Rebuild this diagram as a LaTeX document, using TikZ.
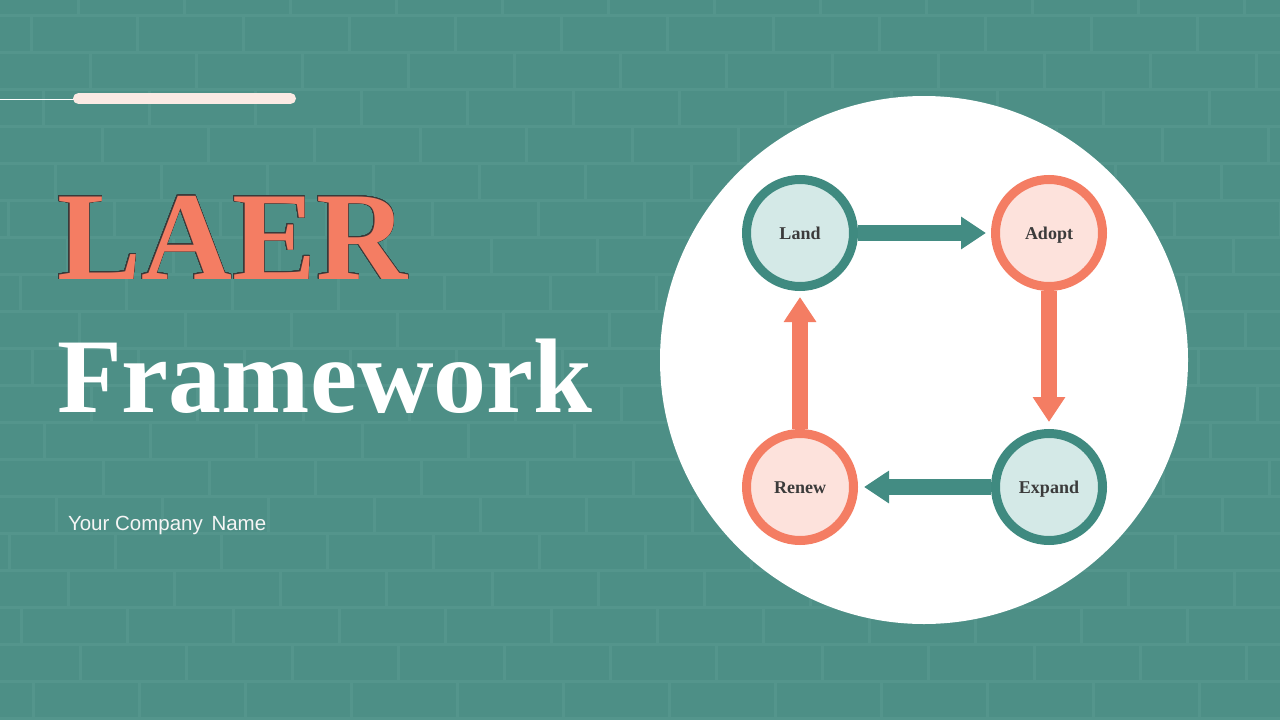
\documentclass[tikz,border=0pt]{standalone}
\usepackage{fontspec}
\setmainfont{Liberation Serif}
\newfontfamily\sansf{Liberation Sans}
\usepackage{contour}
\contourlength{0.7pt}
\contournumber{32}
\usetikzlibrary{arrows.meta}
\definecolor{bgteal}{HTML}{4D8F86}
\definecolor{mortar}{HTML}{54958C}
\definecolor{ringteal}{HTML}{3F8A80}
\definecolor{arrteal}{HTML}{438C83}
\definecolor{salmon}{HTML}{F47D63}
\definecolor{lightteal}{HTML}{D4E9E7}
\definecolor{lightpink}{HTML}{FDE2DC}
\definecolor{labelcol}{HTML}{3B3B3B}
\definecolor{barcol}{HTML}{FBEAE4}
\definecolor{outlinecol}{HTML}{3A3A3A}
\tikzset{
  mortarline/.style={draw=mortar, line width=3pt},
  stepnode/.style={circle, minimum size=107pt, inner sep=0pt, line width=9pt,
    text height=12.5pt, text depth=0pt,
    font=\fontsize{18}{18}\selectfont\bfseries, text=labelcol},
  tealnode/.style={stepnode, draw=ringteal, fill=lightteal},
  pinknode/.style={stepnode, draw=salmon, fill=lightpink},
  tealarr/.style={draw=arrteal, line width=16pt, -{Triangle[width=31pt,length=25pt]}, shorten >=6pt},
  pinkarr/.style={draw=salmon, line width=16pt, -{Triangle[width=31pt,length=25pt]}, shorten >=6pt},
  textnode/.style={anchor=base west, inner sep=0pt, outer sep=0pt}
}
\begin{document}
\begin{tikzpicture}[x=1pt,y=-1pt]
\fill[bgteal] (0,0) rectangle (1280,720);
\useasboundingbox (0,0) rectangle (1280,720);
% brick texture
\foreach \k in {-1,...,19}{
  \pgfmathsetmacro\ya{15+37*\k}
  \pgfmathsetmacro\yb{\ya+37}
  \pgfmathsetmacro\off{mod(137+\k*59,106)}
  \draw[mortarline] (0,\ya) -- (1280,\ya);
  \foreach \j in {-1,...,12}{
    \draw[mortarline] ({\off+106*\j},\ya) -- ({\off+106*\j},\yb);
  }
}
% top decoration
\draw[white, line width=1.5pt] (0,99.3) -- (76,99.3);
\draw[barcol, line width=11pt, line cap=round] (78.5,98.5) -- (290.5,98.5);
% titles
\node[textnode, text=salmon] (laer) at (57,279)
  {\fontsize{126}{126}\selectfont\bfseries\contour{outlinecol}{LAER}};
\node[textnode, text=white] (fw) at (57,412)
  {\fontsize{106}{106}\selectfont\bfseries Framework};
\node[textnode, text=white!96!black] (company) at (68,530)
  {\sansf\fontsize{20.5}{20.5}\selectfont Your Company\hspace{3pt} Name};
% big disc
\node[circle, fill=white, minimum size=528pt, inner sep=0pt] (disc) at (924,360) {};
% steps
\node[tealnode] (land) at (800,233) {Land};
\node[pinknode] (adopt) at (1049,233) {Adopt};
\node[tealnode] (expand) at (1049,487) {Expand};
\node[pinknode] (renew) at (800,487) {Renew};
% arrows
\draw[tealarr, shorten >=5pt] (land) -- (adopt);
\draw[pinkarr, shorten >=7pt] (adopt) -- (expand);
\draw[tealarr] (expand) -- (renew);
\draw[pinkarr] (renew) -- (land);
\end{tikzpicture}
\end{document}
